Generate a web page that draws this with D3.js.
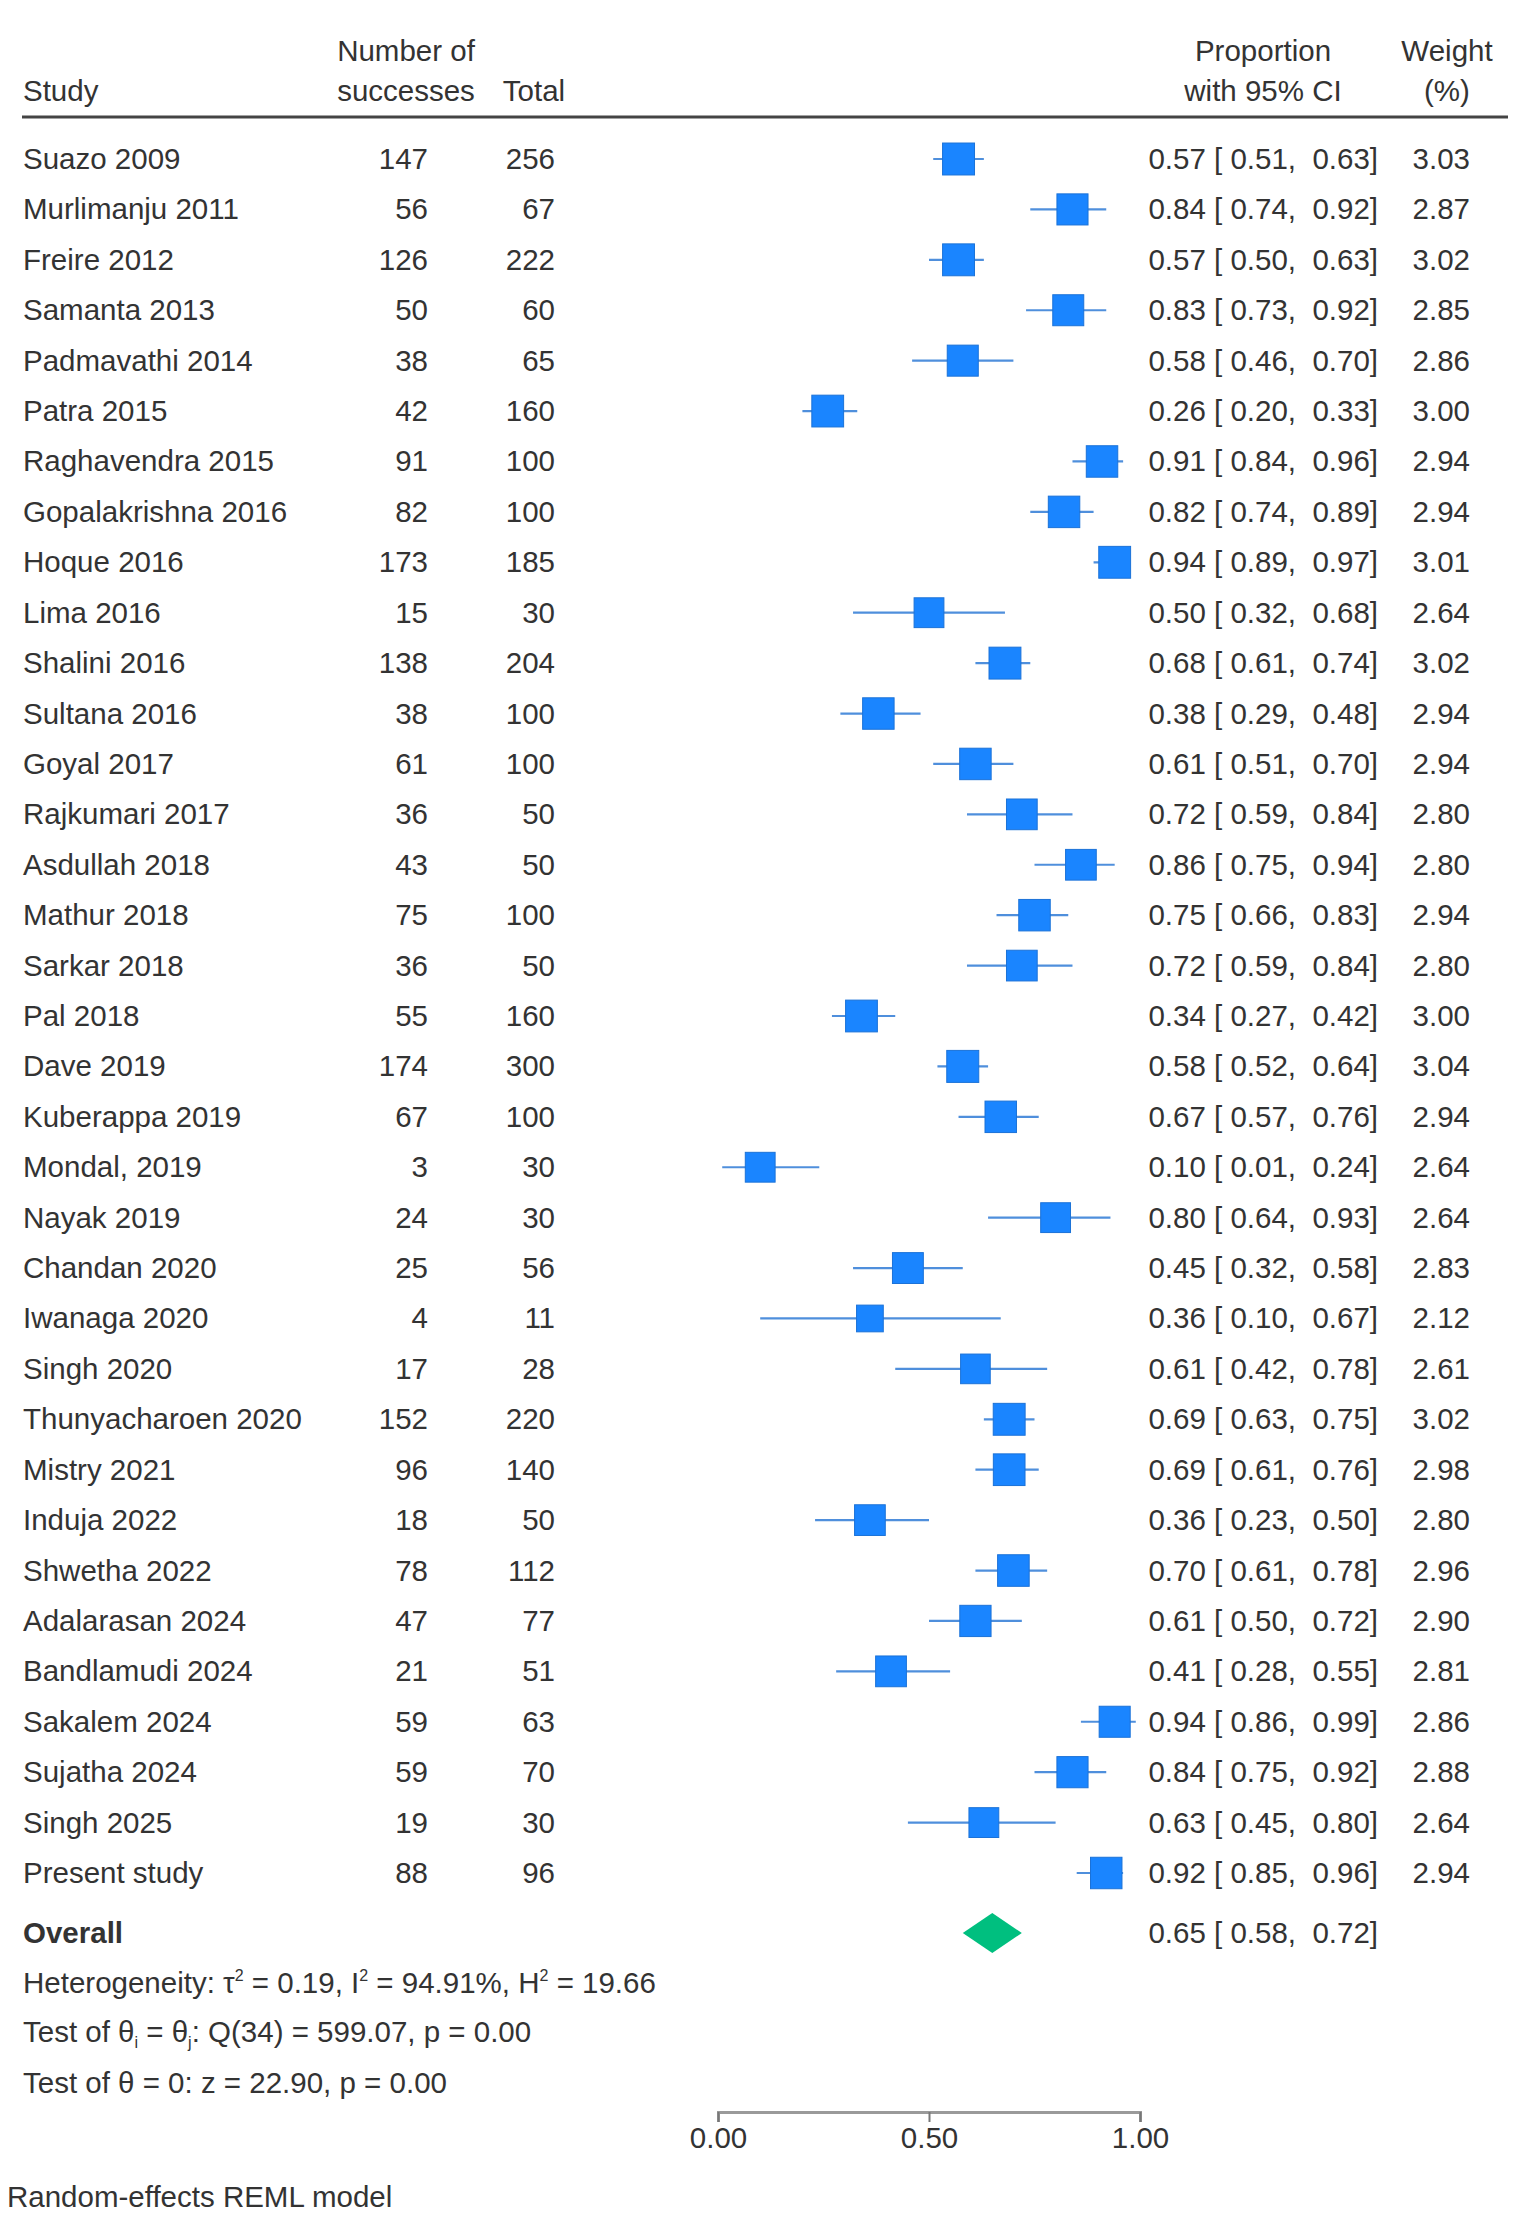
<!DOCTYPE html>
<html>
<head>
<meta charset="utf-8">
<script src="https://cdn.jsdelivr.net/npm/d3@7"></script>
<style>
  body { margin: 0; background: #ffffff; }
  svg text { font-family: "Liberation Sans", Arial, sans-serif; fill: #333333; }
</style>
</head>
<body>
<div id="chart"></div>
<script>
// Study rows
const studies = ['Suazo 2009', 'Murlimanju 2011', 'Freire 2012', 'Samanta 2013', 'Padmavathi 2014',
  'Patra 2015', 'Raghavendra 2015', 'Gopalakrishna 2016', 'Hoque 2016', 'Lima 2016', 'Shalini 2016',
  'Sultana 2016', 'Goyal 2017', 'Rajkumari 2017', 'Asdullah 2018', 'Mathur 2018', 'Sarkar 2018',
  'Pal 2018', 'Dave 2019', 'Kuberappa 2019', 'Mondal, 2019', 'Nayak 2019', 'Chandan 2020',
  'Iwanaga 2020', 'Singh 2020', 'Thunyacharoen 2020', 'Mistry 2021', 'Induja 2022', 'Shwetha 2022',
  'Adalarasan 2024', 'Bandlamudi 2024', 'Sakalem 2024', 'Sujatha 2024', 'Singh 2025', 'Present study']
const successes = [147, 56, 126, 50, 38, 42, 91, 82, 173, 15, 138, 38, 61, 36, 43, 75, 36, 55, 174, 67,
  3, 24, 25, 4, 17, 152, 96, 18, 78, 47, 21, 59, 59, 19, 88]
const totals = [256, 67, 222, 60, 65, 160, 100, 100, 185, 30, 204, 100, 100, 50, 50, 100, 50, 160, 300,
  100, 30, 30, 56, 11, 28, 220, 140, 50, 112, 77, 51, 63, 70, 30, 96]
const proportions = [0.57, 0.84, 0.57, 0.83, 0.58, 0.26, 0.91, 0.82, 0.94, 0.50, 0.68, 0.38, 0.61, 0.72,
  0.86, 0.75, 0.72, 0.34, 0.58, 0.67, 0.10, 0.80, 0.45, 0.36, 0.61, 0.69, 0.69, 0.36, 0.70, 0.61, 0.41,
  0.94, 0.84, 0.63, 0.92]
const lower = [0.51, 0.74, 0.50, 0.73, 0.46, 0.20, 0.84, 0.74, 0.89, 0.32, 0.61, 0.29, 0.51, 0.59, 0.75,
  0.66, 0.59, 0.27, 0.52, 0.57, 0.01, 0.64, 0.32, 0.10, 0.42, 0.63, 0.61, 0.23, 0.61, 0.50, 0.28, 0.86,
  0.75, 0.45, 0.85]
const upper = [0.63, 0.92, 0.63, 0.92, 0.70, 0.33, 0.96, 0.89, 0.97, 0.68, 0.74, 0.48, 0.70, 0.84, 0.94,
  0.83, 0.84, 0.42, 0.64, 0.76, 0.24, 0.93, 0.58, 0.67, 0.78, 0.75, 0.76, 0.50, 0.78, 0.72, 0.55, 0.99,
  0.92, 0.80, 0.96]
const weights = [3.03, 2.87, 3.02, 2.85, 2.86, 3.00, 2.94, 2.94, 3.01, 2.64, 3.02, 2.94, 2.94, 2.80, 2.80,
  2.94, 2.80, 3.00, 3.04, 2.94, 2.64, 2.64, 2.83, 2.12, 2.61, 3.02, 2.98, 2.80, 2.96, 2.90, 2.81, 2.86,
  2.88, 2.64, 2.94]

// Overall estimate
const overall = {est: 0.65, lo: 0.58, hi: 0.72}
const xTicks = [0, 0.5, 1]

const width = 1515
const height = 2231
const fontSize = 29.5
const f2 = d3.format('.2f')
const pad5 = v => (' ' + f2(v)).slice(-5)
const ciText = (p, l, u) => `${f2(p)} [${pad5(l)}, ${pad5(u)}]`

const svg = d3.select('#chart')
  .append('svg')
  .attr('width', width)
  .attr('height', height)
  .attr('font-size', fontSize)

const x = d3.scaleLinear()
  .domain([0, 1])
  .range([718, 1140])

const y = d3.scalePoint()
  .domain(studies)
  .range([159, 1873])

const side = d3.scaleSqrt()
  .domain([0, 3.04])
  .range([0, 32])

const rows = studies.map((s, i) => ({
  study: s, n: successes[i], total: totals[i], p: proportions[i], lo: lower[i], hi: upper[i], w: weights[i]
}))

// header
const head = svg.append('g').attr('class', 'header')
head.append('text').attr('x', 23).attr('y', 101).text('Study')
head.append('text').attr('x', 406).attr('y', 61).attr('text-anchor', 'middle').text('Number of')
head.append('text').attr('x', 406).attr('y', 101).attr('text-anchor', 'middle').text('successes')
head.append('text').attr('x', 534).attr('y', 101).attr('text-anchor', 'middle').text('Total')
head.append('text').attr('x', 1263).attr('y', 61).attr('text-anchor', 'middle').text('Proportion')
head.append('text').attr('x', 1263).attr('y', 101).attr('text-anchor', 'middle').text('with 95% CI')
head.append('text').attr('x', 1447).attr('y', 61).attr('text-anchor', 'middle').text('Weight')
head.append('text').attr('x', 1447).attr('y', 101).attr('text-anchor', 'middle').text('(%)')
head.append('line')
  .attr('x1', 22).attr('x2', 1508)
  .attr('y1', 117).attr('y2', 117)
  .attr('stroke', '#444444')
  .attr('stroke-width', 3)

// study rows
const row = svg.append('g').attr('class', 'rows')
  .selectAll('g')
  .data(rows)
  .enter()
  .append('g')
  .attr('transform', d => `translate(0,${y(d.study)})`)

row.append('text').attr('x', 23).attr('y', 10).text(d => d.study)
row.append('text').attr('x', 428).attr('y', 10).attr('text-anchor', 'end').text(d => d.n)
row.append('text').attr('x', 555).attr('y', 10).attr('text-anchor', 'end').text(d => d.total)
row.append('text')
  .attr('x', 1378).attr('y', 10)
  .attr('text-anchor', 'end')
  .style('white-space', 'pre')
  .text(d => ciText(d.p, d.lo, d.hi))
row.append('text').attr('x', 1470).attr('y', 10).attr('text-anchor', 'end').text(d => f2(d.w))

// confidence intervals
row.append('line')
  .attr('x1', d => x(d.lo))
  .attr('x2', d => x(d.hi))
  .attr('stroke', '#4f8fdc')
  .attr('stroke-width', 2.2)

// weighted squares
row.append('rect')
  .attr('x', d => x(d.p) - side(d.w) / 2)
  .attr('y', d => -side(d.w) / 2)
  .attr('width', d => side(d.w))
  .attr('height', d => side(d.w))
  .attr('fill', '#1a85ff')
  .attr('stroke', '#1b72d8')
  .attr('stroke-width', 1)

// overall
const yOverall = 1933
svg.append('text')
  .attr('x', 23).attr('y', yOverall + 10)
  .attr('font-weight', 'bold')
  .text('Overall')
svg.append('path')
  .attr('d', `M${x(overall.lo)},${yOverall} L${x(overall.est)},${yOverall - 20} L${x(overall.hi)},${yOverall} L${x(overall.est)},${yOverall + 20} Z`)
  .attr('fill', '#00bf7f')
svg.append('text')
  .attr('x', 1378).attr('y', yOverall + 10)
  .attr('text-anchor', 'end')
  .style('white-space', 'pre')
  .text(ciText(overall.est, overall.lo, overall.hi))

// heterogeneity and tests
const het = svg.append('text').attr('x', 23).attr('y', 1993)
het.append('tspan').text('Heterogeneity: \u03c4')
het.append('tspan').attr('dy', -12).attr('font-size', 16).text('2')
het.append('tspan').attr('dy', 12).text(' = 0.19, I')
het.append('tspan').attr('dy', -12).attr('font-size', 16).text('2')
het.append('tspan').attr('dy', 12).text(' = 94.91%, H')
het.append('tspan').attr('dy', -12).attr('font-size', 16).text('2')
het.append('tspan').attr('dy', 12).text(' = 19.66')

const q = svg.append('text').attr('x', 23).attr('y', 2042)
q.append('tspan').text('Test of \u03b8')
q.append('tspan').attr('dy', 6).attr('font-size', 16).text('i')
q.append('tspan').attr('dy', -6).text(' = \u03b8')
q.append('tspan').attr('dy', 6).attr('font-size', 16).text('j')
q.append('tspan').attr('dy', -6).text(': Q(34) = 599.07, p = 0.00')

svg.append('text').attr('x', 23).attr('y', 2093).text('Test of \u03b8 = 0: z = 22.90, p = 0.00')

// x axis
const axis = svg.append('g')
  .attr('transform', 'translate(0,2112)')
  .call(d3.axisBottom(x).tickValues(xTicks).tickFormat(d3.format('.2f')).tickSize(10).tickPadding(5))
axis.select('.domain').attr('stroke', '#9a9a9a').attr('stroke-width', 3)
axis.selectAll('.tick line').attr('stroke', '#777777').attr('stroke-width', 2)
axis.selectAll('.tick text')
  .attr('font-size', fontSize)
  .attr('font-family', '"Liberation Sans", Arial, sans-serif')
  .attr('fill', '#333333')

svg.append('text').attr('x', 7).attr('y', 2207).text('Random-effects REML model')
</script>
</body>
</html>
